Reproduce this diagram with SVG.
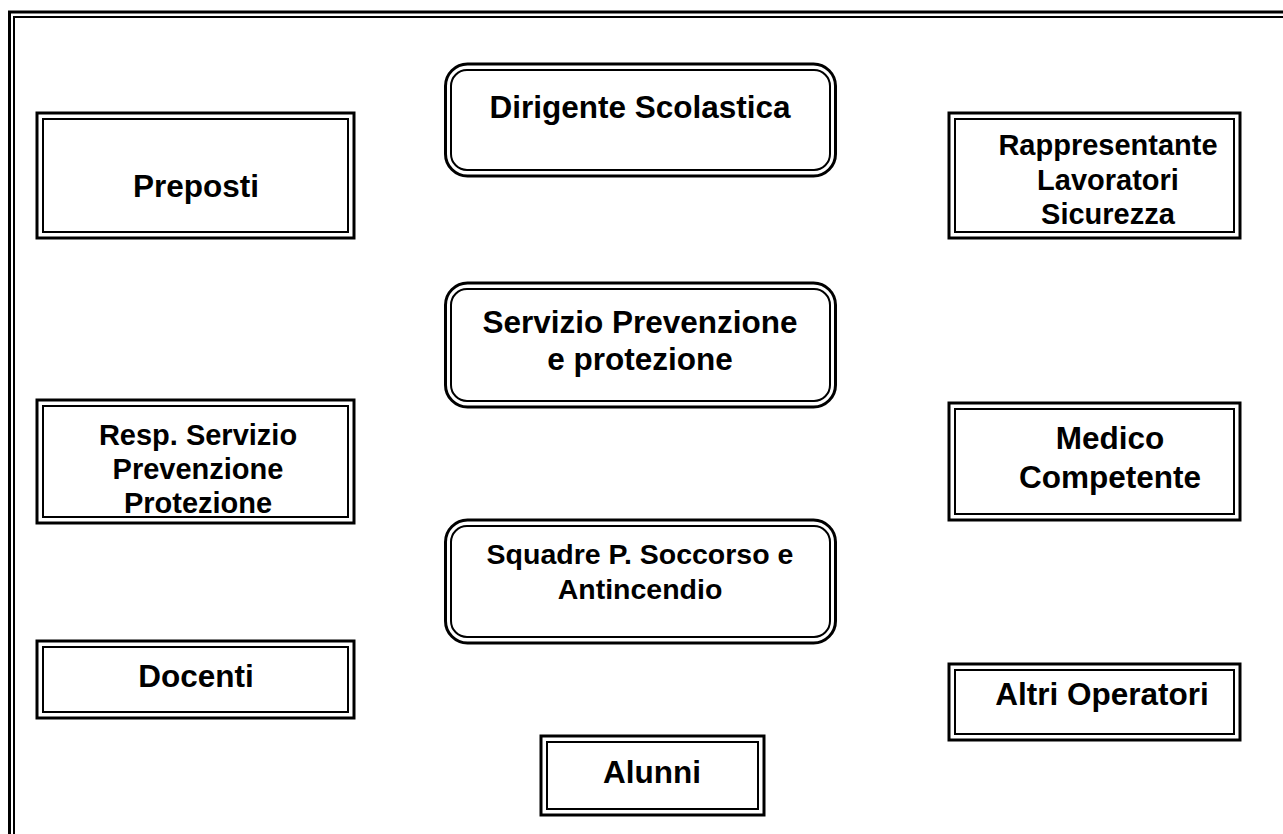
<svg xmlns="http://www.w3.org/2000/svg" width="1283" height="834" viewBox="0 0 1283 834">
<style>
  .o { fill: #fff; stroke: #000; stroke-width: 3; }
  .i { fill: none; stroke: #000; stroke-width: 2; }
  .t { font-family: "Liberation Sans", Arial, sans-serif; font-weight: bold; fill: #000; text-anchor: middle; }
  .L { font-size: 31.5px; }
  .M { font-size: 28.5px; }
  .R { font-size: 29px; }
</style>
<defs>
  <clipPath id="clipResp"><rect x="43" y="406" width="305" height="111"/></clipPath>
</defs>
<rect width="1283" height="834" fill="#fff"/>
<g id="frame">
  <rect x="9.5" y="12" width="1300" height="850" fill="none" stroke="#000" stroke-width="3"/>
  <rect x="14" y="17" width="1290" height="840" fill="none" stroke="#000" stroke-width="2"/>
</g>
<g id="connectors"></g>
<g id="dirigente">
  <rect class="o" x="445.5" y="64" width="390" height="112" rx="22"/>
  <rect class="i" x="451" y="70" width="379" height="100" rx="16"/>
  <text class="t L" x="640" y="118">Dirigente Scolastica</text>
</g>
<g id="preposti">
  <rect class="o" x="37" y="113" width="317" height="125"/>
  <rect class="i" x="43" y="119" width="305" height="113"/>
  <text class="t L" x="196" y="197">Preposti</text>
</g>
<g id="rls">
  <rect class="o" x="949" y="113" width="291" height="125"/>
  <rect class="i" x="955" y="119" width="279" height="113"/>
  <text class="t R" x="1108" y="155">Rappresentante</text>
  <text class="t R" x="1108" y="190">Lavoratori</text>
  <text class="t R" x="1108" y="224">Sicurezza</text>
</g>
<g id="servizio">
  <rect class="o" x="445.5" y="283" width="390" height="124" rx="22"/>
  <rect class="i" x="451" y="289" width="379" height="112" rx="16"/>
  <text class="t L" x="640" y="333">Servizio Prevenzione</text>
  <text class="t L" x="640" y="370">e protezione</text>
</g>
<g id="rspp">
  <rect class="o" x="37" y="400" width="317" height="123"/>
  <rect class="i" x="43" y="406" width="305" height="111"/>
  <g clip-path="url(#clipResp)">
    <text class="t R" x="198" y="445">Resp. Servizio</text>
    <text class="t R" x="198" y="479">Prevenzione</text>
    <text class="t R" x="198" y="513">Protezione</text>
  </g>
</g>
<g id="medico">
  <rect class="o" x="949" y="403" width="291" height="117"/>
  <rect class="i" x="955" y="409" width="279" height="105"/>
  <text class="t L" x="1110" y="449">Medico</text>
  <text class="t L" x="1110" y="488">Competente</text>
</g>
<g id="squadre">
  <rect class="o" x="445.5" y="520" width="390" height="123" rx="22"/>
  <rect class="i" x="451" y="526" width="379" height="111" rx="16"/>
  <text class="t M" x="640" y="564">Squadre P. Soccorso e</text>
  <text class="t M" x="640" y="599">Antincendio</text>
</g>
<g id="docenti">
  <rect class="o" x="37" y="641" width="317" height="77"/>
  <rect class="i" x="43" y="647" width="305" height="65"/>
  <text class="t L" x="196" y="687">Docenti</text>
</g>
<g id="altri">
  <rect class="o" x="949" y="664" width="291" height="76"/>
  <rect class="i" x="955" y="670" width="279" height="64"/>
  <text class="t L" x="1102" y="705">Altri Operatori</text>
</g>
<g id="alunni">
  <rect class="o" x="541" y="736" width="223" height="79"/>
  <rect class="i" x="547" y="742" width="211" height="67"/>
  <text class="t L" x="652" y="783">Alunni</text>
</g>
</svg>
